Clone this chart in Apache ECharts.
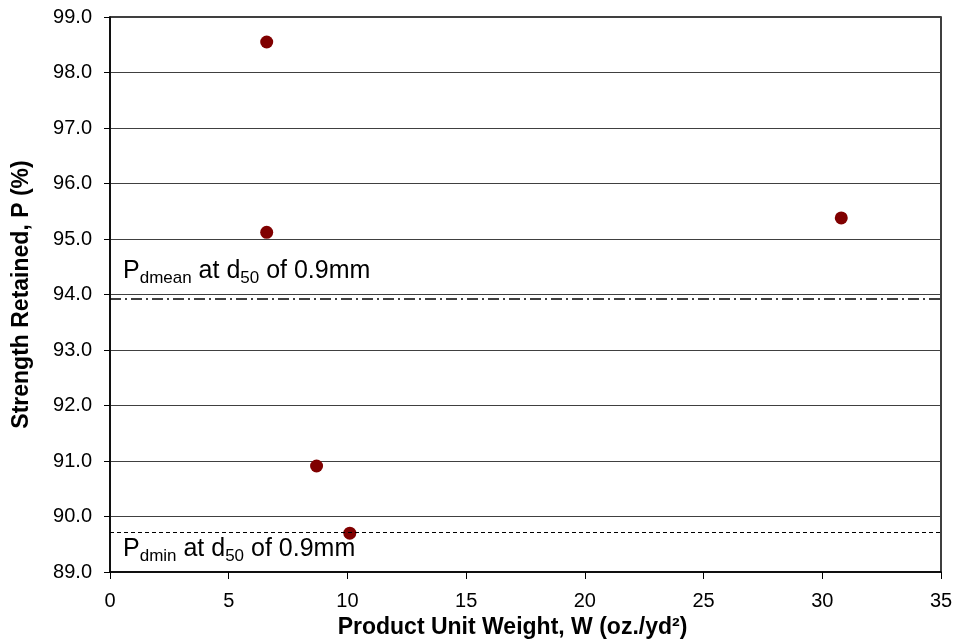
<!DOCTYPE html>
<html>
<head>
<meta charset="utf-8">
<script src="https://cdn.jsdelivr.net/npm/echarts@6/dist/echarts.min.js"></script>
<style>
    html, body { margin: 0; padding: 0; background: #fff; }
    #chart { width: 960px; height: 641px; }
</style>
</head>
<body>
<div id="chart"></div>
<script>
    // measured points: product unit weight vs strength retained
    var weights = [6.6, 6.6, 8.7, 10.1, 30.8];
    var retained = [98.55, 95.12, 90.91, 89.70, 95.38];

    // reference levels at d50 of 0.9mm
    var pDmean = 93.93;
    var pDmin = 89.71;

    var points = weights.map(function (w, i) { return [w, retained[i]]; });

    var font = '"Liberation Sans", Arial, sans-serif';
    var subRich = {
        p: { fontSize: 25, lineHeight: 30, color: '#000', fontFamily: font },
        s: { fontSize: 17, lineHeight: 18, verticalAlign: 'bottom', color: '#000', fontFamily: font }
    };

    var chart = echarts.init(document.getElementById('chart'));

    chart.setOption({
        animation: false,
        textStyle: { fontFamily: font },
        grid: {
            left: 110,
            right: 19,
            top: 17,
            bottom: 69,
            outerBoundsMode: 'none',
            show: true,
            borderColor: '#000',
            borderWidth: 1.5
        },
        xAxis: {
            type: 'value',
            min: 0,
            max: 35,
            interval: 5,
            name: 'Product Unit Weight, W (oz./yd²)',
            nameLocation: 'middle',
            nameGap: 40,
            nameTextStyle: {
                fontSize: 23, fontWeight: 'bold', color: '#000', fontFamily: font,
                padding: [0, 26, 0, 0]
            },
            axisLine: { lineStyle: { color: '#000', width: 1.5 } },
            axisTick: { inside: false, length: 7, lineStyle: { color: '#000' } },
            axisLabel: { fontSize: 20, color: '#000', margin: 19 },
            splitLine: { show: false }
        },
        yAxis: {
            type: 'value',
            min: 89,
            max: 99,
            interval: 1,
            name: 'Strength Retained, P (%)',
            nameLocation: 'middle',
            nameGap: 77,
            nameTextStyle: { fontSize: 23, fontWeight: 'bold', color: '#000', fontFamily: font },
            axisLine: { show: true, lineStyle: { color: '#000', width: 1.5 } },
            axisTick: { show: true, length: 6, lineStyle: { color: '#000' } },
            axisLabel: {
                fontSize: 20,
                color: '#000',
                margin: 18,
                formatter: function (v) { return v.toFixed(1); }
            },
            splitLine: { show: true, lineStyle: { color: '#404040', width: 1.2 } }
        },
        series: [{
            type: 'scatter',
            data: points,
            symbol: 'circle',
            symbolSize: 13,
            itemStyle: { color: '#800000', opacity: 1 },
            markLine: {
                silent: true,
                symbol: 'none',
                data: [
                    {
                        yAxis: pDmean,
                        lineStyle: { color: '#000', width: 1.6, type: [11, 4, 2, 4] },
                        label: {
                            show: true,
                            position: 'insideStartTop',
                            distance: [13, 12],
                            formatter: '{p|P}{s|dmean}{p| at d}{s|50}{p| of 0.9mm}',
                            rich: subRich
                        }
                    },
                    {
                        yAxis: pDmin,
                        lineStyle: { color: '#000', width: 1.2, type: [4, 3] },
                        label: {
                            show: true,
                            position: 'insideStartBottom',
                            distance: [13, 2],
                            formatter: '{p|P}{s|dmin}{p| at d}{s|50}{p| of 0.9mm}',
                            rich: subRich
                        }
                    }
                ]
            }
        }]
    });
</script>
</body>
</html>
